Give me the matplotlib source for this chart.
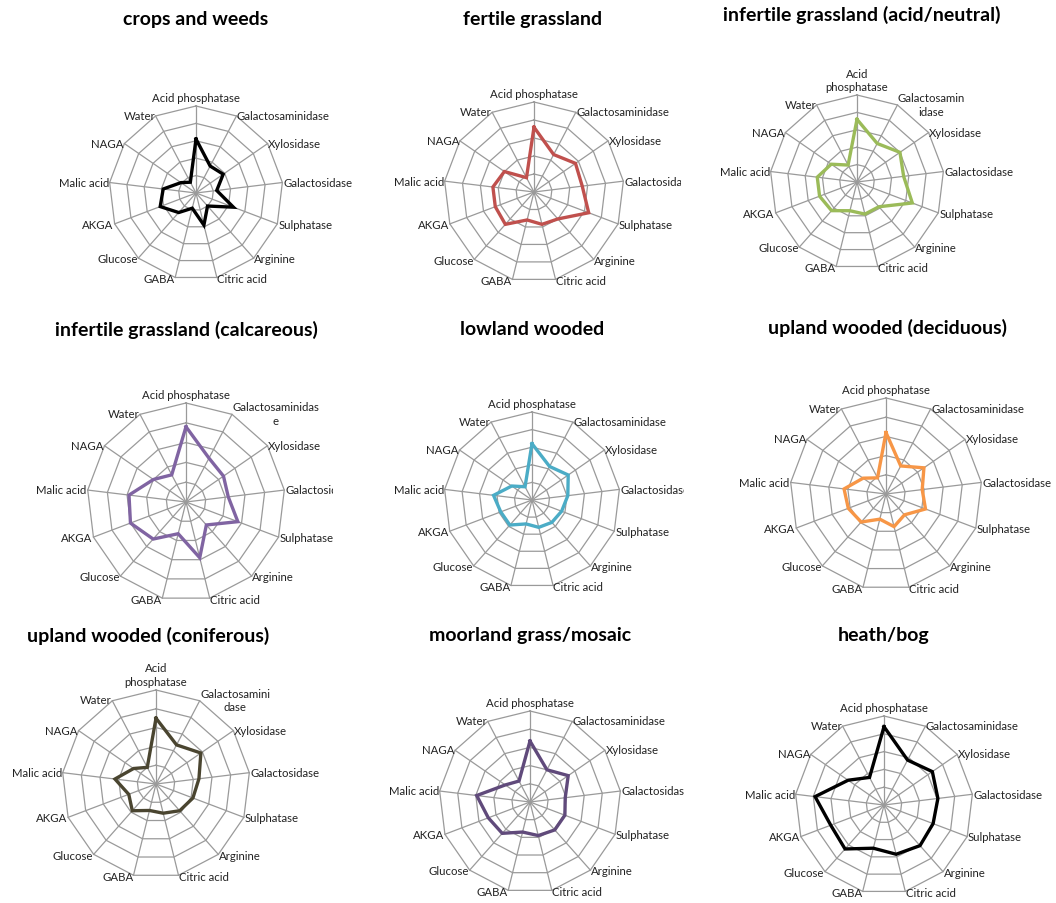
import numpy as np
import matplotlib
matplotlib.use("Agg")
import matplotlib.pyplot as plt
from matplotlib.transforms import Bbox

plt.rcParams['font.family'] = ['Lato', 'DejaVu Sans']

# axis labels, clockwise from the top
labels = ["Acid phosphatase", "Galactosaminidase", "Xylosidase", "Galactosidase",
          "Sulphatase", "Arginine", "Citric acid", "GABA", "Glucose", "AKGA",
          "Malic acid", "NAGA", "Water"]

titles = ["crops and weeds", "fertile grassland", "infertile grassland (acid/neutral)",
          "infertile grassland (calcareous)", "lowland wooded", "upland wooded (deciduous)",
          "upland wooded (coniferous)", "moorland grass/mosaic", "heath/bog"]

crops_weeds = [3.1, 1.75, 1.9, 1.2, 2.3, 1.0, 1.9, 0.9, 1.5, 2.2, 1.9, 1.05, 0.7]
fertile = [3.6, 2.35, 2.8, 2.7, 3.25, 2.0, 1.85, 1.6, 2.4, 2.3, 2.3, 2.0, 0.9]
infertile_acid = [3.6, 2.5, 3.0, 2.7, 3.4, 1.9, 1.9, 1.7, 2.2, 2.3, 2.3, 1.8, 1.1]
infertile_calc = [3.8, 2.5, 2.3, 2.15, 2.8, 1.55, 2.9, 1.65, 2.5, 3.0, 2.9, 2.0, 1.55]
lowland = [3.2, 2.15, 2.5, 2.05, 1.8, 1.7, 1.6, 1.4, 1.9, 1.9, 2.2, 1.4, 0.85]
upland_dec = [3.2, 1.65, 2.4, 1.9, 2.2, 1.45, 1.75, 1.35, 1.95, 2.1, 2.2, 1.45, 0.95]
upland_con = [3.5, 2.35, 2.9, 2.3, 2.1, 1.9, 1.6, 1.45, 1.9, 1.55, 2.2, 1.45, 1.0]
moorland = [3.35, 2.0, 2.55, 1.95, 2.05, 2.05, 1.9, 1.7, 2.3, 2.45, 2.95, 1.65, 1.3]
heath_bog = [4.4, 2.85, 3.3, 3.05, 2.95, 3.05, 2.85, 2.5, 3.3, 3.2, 3.9, 2.45, 1.75]

series = [crops_weeds, fertile, infertile_acid, infertile_calc, lowland,
          upland_dec, upland_con, moorland, heath_bog]
colors = ["#000000", "#C0504D", "#9BBB59", "#8064A2", "#4BACC6",
          "#F79646", "#4A4530", "#604A7B", "#000000"]

W, H = 1056, 904
# panel centre (px), radius (px), title position (px), clip x-range for labels
centres = [(196, 194), (534, 193), (857, 183), (186, 503), (532, 501), (886, 495),
           (156, 785), (530, 803), (884, 806)]
radii = [87, 90, 87, 99, 88, 96, 94, 91, 89]
title_pos = [(196, 20), (533, 20), (862, 15), (186, 330), (532, 330), (887, 328),
             (148, 636), (530, 636), (884, 636)]
clip_x = [(0, 380), (395, 681), (700, 1056), (0, 333), (380, 684), (720, 1056),
          (0, 320), (370, 684), (720, 1056)]
# wrapped labels in some panels
wrapped = {2: {0: "Acid\nphosphatase", 1: "Galactosamin\nidase"},
           3: {1: "Galactosaminidas\ne"},
           6: {0: "Acid\nphosphatase", 1: "Galactosamini\ndase"}}

fig = plt.figure(figsize=(W / 100, H / 100), dpi=100)
fig.patch.set_facecolor("white")

n = len(labels)
theta = np.linspace(0, 2 * np.pi, n, endpoint=False)
theta_c = np.append(theta, theta[0])

for i in range(9):
    cx, cy = centres[i]
    R = radii[i]
    ax = fig.add_axes([(cx - R) / W, 1 - (cy + R) / H, 2 * R / W, 2 * R / H],
                      projection="polar")
    ax.set_theta_zero_location("N")
    ax.set_theta_direction(-1)
    ax.set_ylim(0, 5)
    ax.grid(False)
    ax.spines["polar"].set_visible(False)
    ax.set_xticks([])
    ax.set_yticks([])
    ax.patch.set_alpha(0)

    for r in range(1, 6):
        ax.plot(theta_c, [r] * (n + 1), color="#9A9A9A", lw=0.9, clip_on=False, zorder=1)
    for t in theta:
        ax.plot([t, t], [0, 5], color="#9A9A9A", lw=0.9, clip_on=False, zorder=1)

    vals = series[i] + series[i][:1]
    ax.plot(theta_c, vals, color=colors[i], lw=2.4, clip_on=False, zorder=3,
            solid_joinstyle="miter")

    x0, x1 = clip_x[i]
    cbox = Bbox.from_extents(x0, 0, x1, H)
    for k, t in enumerate(theta):
        s, c = np.sin(t), np.cos(t)
        ha = "center" if abs(s) < 0.1 else ("left" if s > 0 else "right")
        va = "bottom" if c > 0.95 else "center"
        txt = wrapped.get(i, {}).get(k, labels[k])
        rr = 5.15 if c > 0.95 else 5.05
        lab = ax.text(t, rr, txt, ha=ha, va=va, fontsize=8.2, color="#222222",
                      linespacing=1.3, multialignment="center")
        lab.set_clip_on(True)
        lab.set_clip_box(cbox)

    tx, ty = title_pos[i]
    fig.text(tx / W, 1 - ty / H, titles[i], ha="center", va="center",
             fontsize=14, fontweight="bold")

fig.savefig("out.png", dpi=100)
